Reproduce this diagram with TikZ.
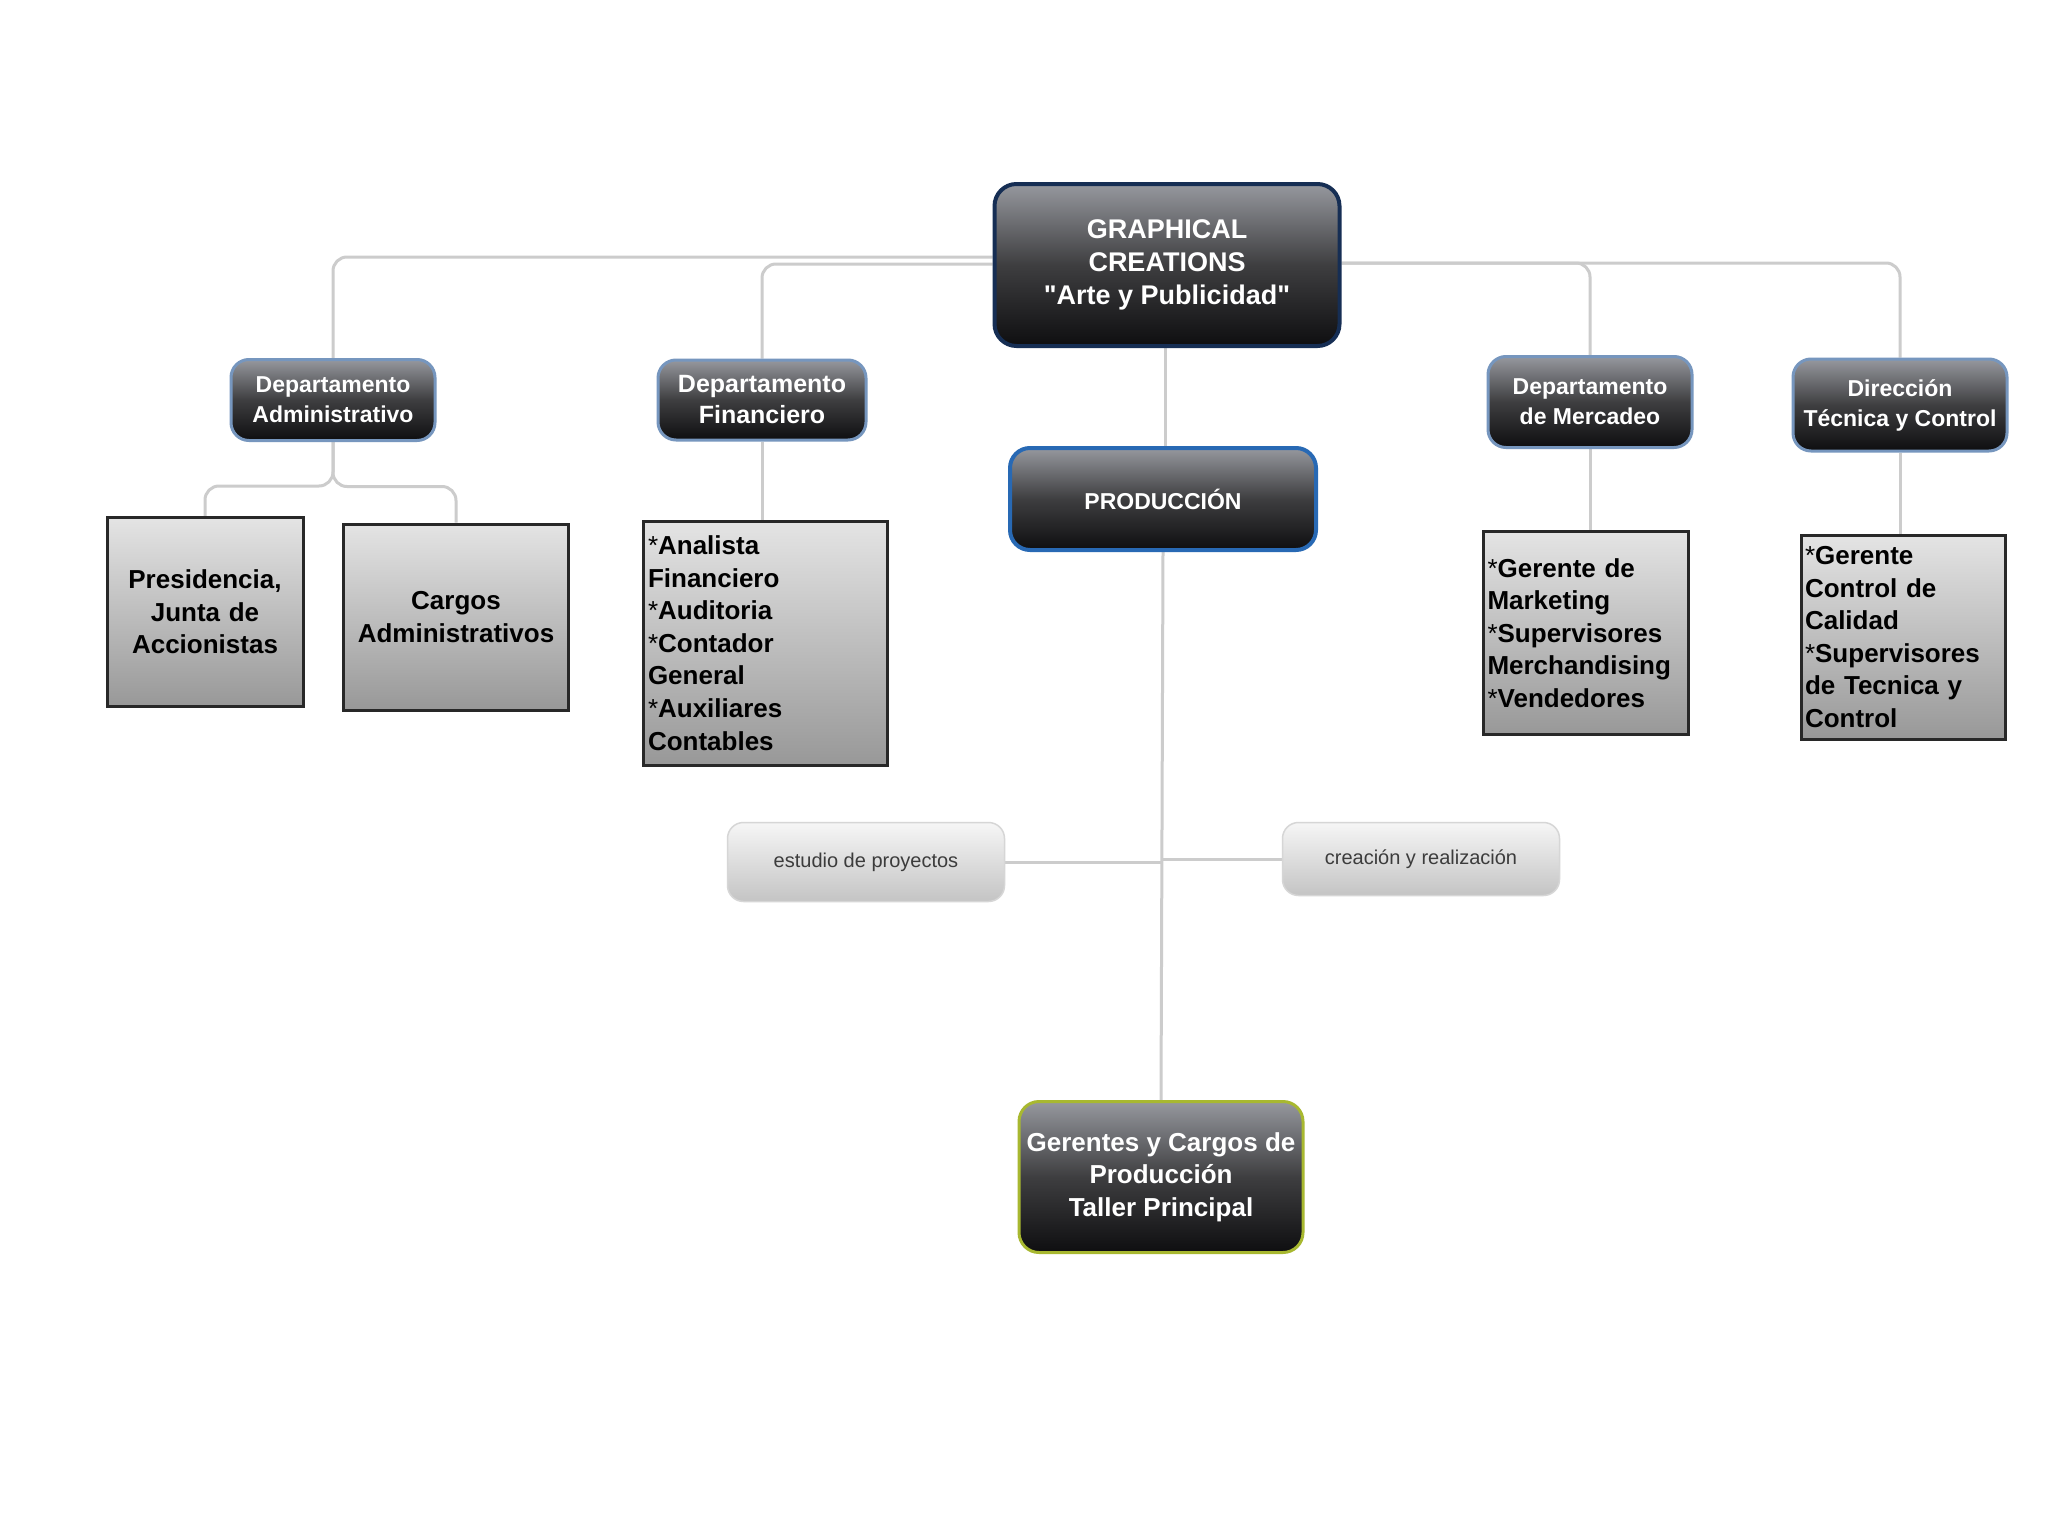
\documentclass[tikz,border=0pt]{standalone}
\usepackage{fontspec}
\setmainfont{Liberation Sans}[Ligatures=TeXOff]
\usetikzlibrary{backgrounds}
\definecolor{connc}{RGB}{204,204,204}
\definecolor{dtop}{RGB}{150,152,158}
\definecolor{dmid}{RGB}{62,62,64}
\definecolor{dbot}{RGB}{14,14,16}
\definecolor{navyb}{RGB}{22,46,84}
\definecolor{deptb}{RGB}{118,150,190}
\definecolor{prodb}{RGB}{40,105,180}
\definecolor{gerb}{RGB}{168,184,48}
\definecolor{ltop}{RGB}{228,228,228}
\definecolor{lbot}{RGB}{152,152,152}
\definecolor{boxb}{RGB}{40,40,40}
\definecolor{ptop}{RGB}{246,246,246}
\definecolor{pbot}{RGB}{196,196,196}
\definecolor{pbord}{RGB}{214,214,214}
\definecolor{ptext}{RGB}{60,60,60}
\tikzset{
  conn/.style={draw=connc, line width=3pt, rounded corners=14pt},
  darkbox/.style={rounded corners=18pt, top color=dtop, bottom color=dbot, middle color=dmid,
    text=white, font=\bfseries, align=center, inner sep=3pt},
  rootbox/.style={darkbox, draw=navyb, line width=4pt, rounded corners=22pt,
    font=\bfseries\fontsize{27}{33}\selectfont},
  deptbox/.style={darkbox, draw=deptb, line width=3pt, font=\bfseries\fontsize{23}{30}\selectfont},
  prodbox/.style={darkbox, draw=prodb, line width=4pt, rounded corners=20pt,
    font=\bfseries\fontsize{23}{28}\selectfont},
  gerbox/.style={darkbox, draw=gerb, line width=3pt, rounded corners=20pt,
    font=\bfseries\fontsize{26}{32.6}\selectfont},
  listbox/.style={rectangle, top color=ltop, bottom color=lbot, draw=boxb, line width=3pt,
    text=black, font=\bfseries\fontsize{26}{32.6}\selectfont, inner sep=5pt},
  pillbox/.style={rounded corners=16pt, top color=ptop, bottom color=pbot, draw=pbord, line width=1.5pt,
    text=ptext, font=\fontsize{20}{24}\selectfont, align=center}
}
\newcommand{\astk}{\textmd{*}}
\begin{document}
\begin{tikzpicture}[x=1pt,y=-1pt]
\begin{scope}[on background layer]
\fill[white] (0,0) rectangle (2048,1536);
\end{scope}
\useasboundingbox (0,0) rectangle (2048,1536);

% top level
\node[rootbox, minimum width=345pt, minimum height=162pt] (root) at (1167,265)
  {GRAPHICAL\\CREATIONS\\"Arte y Publicidad"};

\node[deptbox, minimum width=204pt, minimum height=81pt] (adm) at (333,400)
  {Departamento\\Administrativo};
\node[deptbox, minimum width=208pt, minimum height=80pt, font=\bfseries\fontsize{25}{31}\selectfont] (fin) at (762,400)
  {Departamento\\Financiero};
\node[prodbox, minimum width=306pt, minimum height=102pt] (prod) at (1163,499)
  {PRODUCCIÓN};
\node[deptbox, minimum width=204pt, minimum height=91pt] (mer) at (1590,402)
  {Departamento\\de Mercadeo};
\node[deptbox, minimum width=214pt, minimum height=92pt] (dir) at (1900,405)
  {Dirección\\Técnica y Control};

% lists
\node[listbox, align=center, minimum width=196pt, minimum height=189pt, text width=186pt] (pres) at (205,612)
  {Presidencia,\\Junta de\\Accionistas};
\node[listbox, align=center, minimum width=225pt, minimum height=186pt, text width=215pt] (carg) at (456,617)
  {Cargos\\Administrativos};
\node[listbox, align=left, minimum width=244pt, minimum height=244pt, text width=234pt, inner sep=4pt] (finl) at (765,643)
  {\astk Analista\\Financiero\\\astk Auditoria\\\astk Contador\\General\\\astk Auxiliares\\Contables};
\node[listbox, align=left, minimum width=205pt, minimum height=203pt, text width=197pt, inner sep=4pt] (merl) at (1586,633)
  {\astk Gerente de\\Marketing\\\astk Supervisores\\Merchandising\\\astk Vendedores};
\node[listbox, align=left, minimum width=204pt, minimum height=204pt, text width=196pt, inner sep=4pt] (dirl) at (1903,637)
  {\astk Gerente\\Control de\\Calidad\\\astk Supervisores\\de Tecnica y\\Control};

% production branch
\node[pillbox, minimum width=277pt, minimum height=79pt] (est) at (866,862) {estudio de proyectos};
\node[pillbox, minimum width=277pt, minimum height=73pt] (cre) at (1421,859) {creación y realización};
\node[gerbox, minimum width=284pt, minimum height=151pt] (ger) at (1161,1177)
  {Gerentes y Cargos de\\Producción\\Taller Principal};

% connectors
\begin{scope}[on background layer]
\draw[conn] ([yshift=8pt]root.west) -| (adm.north);
\draw[conn] ([yshift=1pt]root.west) -| (fin.north);
\draw[conn] ([yshift=2pt]root.east) -| (mer.north);
\draw[conn] ([yshift=2pt]root.east) -| (dir.north);
\draw[conn] ([xshift=-2pt]root.south) -- ([xshift=-2pt]root.south |- prod.north);
\draw[conn] (prod.south) -- (ger.north);
\draw[conn] (est.east) -- (est.east -| prod.south);
\draw[conn] (cre.west) -- (cre.west -| prod.south);
\draw[conn] (adm.south) |- ([yshift=30pt]pres.north) -- (pres.north);
\draw[conn] (adm.south) |- ([yshift=36pt]carg.north) -- (carg.north);
\draw[conn] (fin.south) -- (fin.south |- finl.north);
\draw[conn] (mer.south) -- (mer.south |- merl.north);
\draw[conn] (dir.south) -- (dir.south |- dirl.north);
\end{scope}
\end{tikzpicture}
\end{document}
